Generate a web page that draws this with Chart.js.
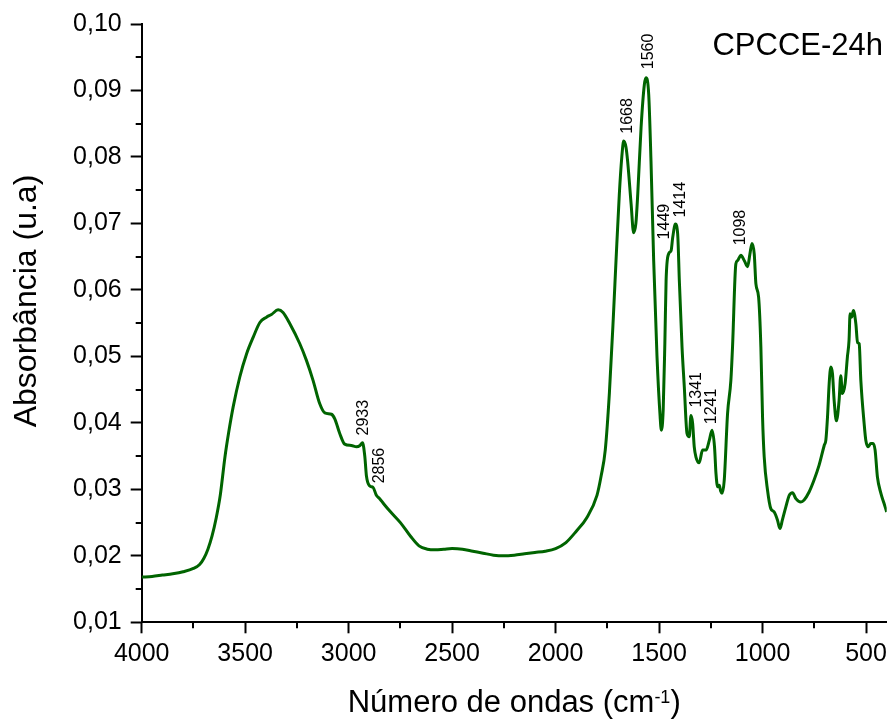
<!DOCTYPE html>
<html>
<head>
<meta charset="utf-8">
<script src="https://cdn.jsdelivr.net/npm/chart.js@4.4.0/dist/chart.umd.min.js"></script>
<style>
  html, body { margin: 0; padding: 0; background: #fff; }
  #wrap { width: 893px; height: 724px; }
</style>
</head>
<body>
<div id="wrap"><canvas id="chart" width="893" height="724"></canvas></div>
<script>
// Espectro FTIR CPCCE-24h
const wavenumbers = [
  4000, 3950, 3900, 3850, 3800, 3750, 3720, 3700, 3680, 3660, 3640, 3620, 3598, 3580, 3558, 3526,
  3493, 3461, 3429, 3397, 3373, 3341, 3317, 3284, 3236, 3204, 3172, 3140, 3115, 3083, 3067, 3043,
  3019, 2987, 2962, 2945, 2933, 2922, 2914, 2898, 2882, 2866, 2850, 2830, 2800, 2750, 2700, 2660,
  2620, 2580, 2540, 2500, 2450, 2400, 2350, 2300, 2250, 2200, 2150, 2100, 2050, 2000, 1950, 1900,
  1850, 1800, 1780, 1760, 1740, 1720, 1708, 1692, 1680, 1671, 1660, 1652, 1635, 1623, 1612, 1603,
  1587, 1571, 1563, 1550, 1539, 1526, 1510, 1495, 1489, 1480, 1472, 1466, 1454, 1442, 1434, 1421,
  1410, 1402, 1389, 1378, 1365, 1354, 1346, 1338, 1330, 1322, 1306, 1290, 1273, 1257, 1244, 1232,
  1225, 1217, 1209, 1202, 1196, 1185, 1169, 1153, 1145, 1129, 1121, 1105, 1088, 1072, 1061, 1051,
  1040, 1032, 1019, 1008, 1000, 992, 976, 960, 944, 928, 916, 904, 887, 871, 855, 839,
  815, 799, 775, 751, 727, 702, 694, 686, 678, 670, 662, 654, 643, 630, 622, 614,
  601, 590, 582, 577, 569, 561, 549, 541, 533, 525, 509, 501, 489, 477, 466, 456,
  445, 428, 413, 400
];
const absorbance = [
  0.0168, 0.0169, 0.0171, 0.0173, 0.0176, 0.0181, 0.0187, 0.0196, 0.0210, 0.0230, 0.0257, 0.0292, 0.0348, 0.0385, 0.0424, 0.0469,
  0.0504, 0.0529, 0.0551, 0.0559, 0.0563, 0.0570, 0.0566, 0.0549, 0.0519, 0.0494, 0.0464, 0.0429, 0.0415, 0.0413, 0.0406, 0.0384,
  0.0368, 0.0366, 0.0364, 0.0366, 0.0370, 0.0350, 0.0320, 0.0305, 0.0303, 0.0291, 0.0286, 0.0278, 0.0267, 0.0250, 0.0229, 0.0215,
  0.0210, 0.0209, 0.0210, 0.0211, 0.0210, 0.0207, 0.0204, 0.0201, 0.0200, 0.0201, 0.0203, 0.0205, 0.0207, 0.0211, 0.0220, 0.0237,
  0.0257, 0.0291, 0.0320, 0.0359, 0.0445, 0.0565, 0.0644, 0.0744, 0.0800, 0.0824, 0.0815, 0.0794, 0.0729, 0.0686, 0.0700, 0.0744,
  0.0844, 0.0909, 0.0919, 0.0894, 0.0794, 0.0644, 0.0500, 0.0410, 0.0389, 0.0420, 0.0520, 0.0614, 0.0654, 0.0659, 0.0679, 0.0699,
  0.0684, 0.0614, 0.0514, 0.0454, 0.0384, 0.0379, 0.0411, 0.0400, 0.0364, 0.0349, 0.0340, 0.0359, 0.0359, 0.0374, 0.0389, 0.0364,
  0.0324, 0.0304, 0.0306, 0.0297, 0.0294, 0.0314, 0.0414, 0.0464, 0.0514, 0.0639, 0.0644, 0.0652, 0.0644, 0.0635, 0.0654, 0.0670,
  0.0654, 0.0609, 0.0589, 0.0514, 0.0409, 0.0349, 0.0299, 0.0271, 0.0266, 0.0254, 0.0241, 0.0254, 0.0274, 0.0291, 0.0295, 0.0286,
  0.0281, 0.0284, 0.0296, 0.0314, 0.0336, 0.0366, 0.0374, 0.0409, 0.0459, 0.0484, 0.0474, 0.0434, 0.0403, 0.0434, 0.0471, 0.0444,
  0.0459, 0.0499, 0.0524, 0.0564, 0.0559, 0.0569, 0.0549, 0.0521, 0.0519, 0.0464, 0.0399, 0.0374, 0.0364, 0.0369, 0.0369, 0.0359,
  0.0319, 0.0294, 0.0279, 0.0266
];

// Ejes
const xTicks = [4000, 3500, 3000, 2500, 2000, 1500, 1000, 500];
const xMinorTicks = [3750, 3250, 2750, 2250, 1750, 1250, 750];
const yTicks = [0.01, 0.02, 0.03, 0.04, 0.05, 0.06, 0.07, 0.08, 0.09, 0.10];
const yMinorTicks = [0.015, 0.025, 0.035, 0.045, 0.055, 0.065, 0.075, 0.085, 0.095];

// Etiquetas de picos (texto vertical, anclado abajo)
const peakLabels = ['2933', '2856', '1668', '1560', '1449', '1414', '1341', '1241', '1098'];
const peakLabelX = [2931, 2854, 1657, 1555, 1479, 1402, 1322, 1253, 1113];
const peakLabelY = [0.0381, 0.0309, 0.0835, 0.0932, 0.0676, 0.0709, 0.0423, 0.0398, 0.0667];

const FONT = "'Liberation Sans', Arial, sans-serif";
const fmt = v => v.toFixed(2).replace('.', ',');

const points = wavenumbers.map((w, i) => ({ x: w, y: absorbance[i] }));

// dibuja ticks menores, títulos y etiquetas
const extras = {
  id: 'extras',
  afterDraw(chart) {
    const { ctx, chartArea: ca, scales } = chart;
    const xs = scales.x, ys = scales.y;
    ctx.save();
    ctx.strokeStyle = '#000';
    ctx.lineWidth = 2;
    // minor ticks
    xMinorTicks.forEach(v => {
      const px = Math.round(xs.getPixelForValue(v));
      ctx.beginPath(); ctx.moveTo(px, ca.bottom); ctx.lineTo(px, ca.bottom + 6); ctx.stroke();
    });
    yMinorTicks.forEach(v => {
      const py = Math.round(ys.getPixelForValue(v));
      ctx.beginPath(); ctx.moveTo(ca.left, py); ctx.lineTo(ca.left - 6, py); ctx.stroke();
    });

    ctx.fillStyle = '#000';
    // peak labels
    ctx.font = `16px ${FONT}`;
    ctx.textAlign = 'left';
    ctx.textBaseline = 'middle';
    peakLabels.forEach((t, i) => {
      ctx.save();
      ctx.translate(xs.getPixelForValue(peakLabelX[i]), ys.getPixelForValue(peakLabelY[i]));
      ctx.rotate(-Math.PI / 2);
      ctx.fillText(t, 0, 1);
      ctx.restore();
    });

    // sample name
    ctx.font = `31px ${FONT}`;
    ctx.textAlign = 'right';
    ctx.textBaseline = 'alphabetic';
    ctx.fillText('CPCCE-24h', 883, 55);

    // y title
    ctx.save();
    ctx.translate(36, 301);
    ctx.rotate(-Math.PI / 2);
    ctx.font = `32px ${FONT}`;
    ctx.textAlign = 'center';
    ctx.fillText('Absorbância (u.a)', 0, 0);
    ctx.restore();

    // x title with superscript
    const main = 'Número de ondas (cm', sup = '-1', end = ')';
    ctx.textAlign = 'left';
    ctx.font = `31px ${FONT}`;
    const w1 = ctx.measureText(main).width, w3 = ctx.measureText(end).width;
    ctx.font = `18px ${FONT}`;
    const w2 = ctx.measureText(sup).width;
    let x0 = (ca.left + ca.right) / 2 - (w1 + w2 + w3) / 2;
    const base = 712;
    ctx.font = `31px ${FONT}`;
    ctx.fillText(main, x0, base);
    ctx.font = `18px ${FONT}`;
    ctx.fillText(sup, x0 + w1, base - 9);
    ctx.font = `31px ${FONT}`;
    ctx.fillText(end, x0 + w1 + w2, base);
    ctx.restore();
  }
};

new Chart(document.getElementById('chart'), {
  type: 'line',
  data: {
    datasets: [{
      data: points,
      borderColor: '#006400',
      borderWidth: 3,
      pointRadius: 0,
      fill: false,
      cubicInterpolationMode: 'monotone'
    }]
  },
  options: {
    responsive: false,
    animation: false,
    devicePixelRatio: 1,
    layout: { padding: { left: 0, top: 23, right: 5, bottom: 0 } },
    plugins: { legend: { display: false }, tooltip: { enabled: false } },
    scales: {
      x: {
        type: 'linear',
        reverse: true,
        min: 400,
        max: 4000,
        afterBuildTicks: s => { s.ticks = xTicks.map(v => ({ value: v })); },
        afterFit: s => { s.height = 101.7; },
        ticks: { color: '#000', font: { family: FONT, size: 25 }, padding: 6, maxRotation: 0, callback: v => String(v) },
        grid: { drawOnChartArea: false, drawTicks: true, tickLength: 11, tickWidth: 2, tickColor: '#000' },
        border: { display: true, color: '#000', width: 2 }
      },
      y: {
        min: 0.01,
        max: 0.10,
        afterBuildTicks: s => { s.ticks = yTicks.map(v => ({ value: v })); },
        afterFit: s => { s.width = 141.7; },
        ticks: { color: '#000', font: { family: FONT, size: 25 }, padding: 9, callback: v => fmt(v) },
        grid: { drawOnChartArea: false, drawTicks: true, tickLength: 11, tickWidth: 2, tickColor: '#000' },
        border: { display: true, color: '#000', width: 2 }
      }
    }
  },
  plugins: [extras]
});
</script>
</body>
</html>
